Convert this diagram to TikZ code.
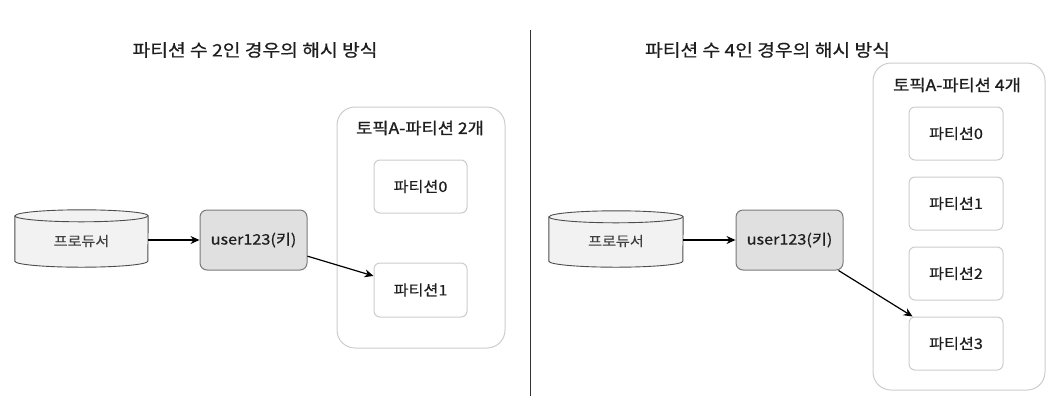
\documentclass[tikz,border=0pt]{standalone}
\usepackage{fontspec}
\setmainfont{Noto Sans CJK KR}[FakeStretch=1.12, FakeBold=0.5]
\newfontfamily\heavyfont{Noto Sans CJK KR}[FakeStretch=1.1, FakeBold=1.1]
\usetikzlibrary{arrows.meta}
\definecolor{txt}{HTML}{1E1E1E}
\definecolor{lightbd}{HTML}{CCCCCC}
\definecolor{keyfill}{HTML}{E0E0E0}
\definecolor{keybd}{HTML}{7A7A7A}
\definecolor{cylfill}{HTML}{F2F2F2}
\definecolor{cylbd}{HTML}{4D4D4D}
\tikzset{
  title/.style={font=\fontsize{17.2}{20}\selectfont, text=txt},
  contbox/.style={draw=lightbd, line width=1pt, rounded corners=18pt},
  conttitle/.style={font=\heavyfont\fontsize{16}{19}\selectfont, text=txt},
  partbox/.style={draw=lightbd, line width=1pt, rounded corners=6pt, fill=white, font=\fontsize{14.5}{17}\selectfont, text=txt},
  keybox/.style={draw=keybd, fill=keyfill, line width=1pt, rounded corners=7pt, font=\fontsize{14.5}{17}\selectfont, text=txt},
  prodnode/.style={font=\fontsize{13.5}{16}\selectfont, text=txt!85, inner sep=0pt},
  cyl/.style={draw=cylbd, line width=0.9pt, fill=cylfill},
  conn/.style={draw=black, line width=1.2pt, -{Stealth[length=9pt,width=8pt]}},
}
\newcommand{\drawcyl}[1]{%
  \path[cyl] ([yshift=-6pt]#1.north west) -- ([yshift=6pt]#1.south west)
     arc[start angle=180, end angle=360, x radius=0.5*\cylw, y radius=6pt]
     -- ([yshift=-6pt]#1.north east)
     arc[start angle=0, end angle=180, x radius=0.5*\cylw, y radius=6pt] -- cycle;
  \draw[draw=cylbd, line width=0.9pt] ([yshift=-6pt]#1.north west)
     arc[start angle=180, end angle=360, x radius=0.5*\cylw, y radius=6pt];
}
\begin{document}
\begin{tikzpicture}[x=1pt,y=1pt]
\useasboundingbox (0,0) rectangle (1054,-400);

% ---------- left ----------
\node[title] (t1) at (255,-50) {파티션 수 2인 경우의 해시 방식};
\node[contbox, minimum width=168pt, minimum height=241pt] (c1) at (421,-227.5) {};
\node[conttitle] (c1t) at (420,-128) {토픽A-파티션 2개};
\node[partbox, minimum width=93pt, minimum height=53pt] (l0) at (420.5,-186.5) {파티션0};
\node[partbox, minimum width=93pt, minimum height=54pt] (l1) at (420.5,-290) {파티션1};
\node[prodnode, minimum width=133pt, minimum height=57pt] (pr1) at (81.5,-238.5) {};
\def\cylw{133pt}
\drawcyl{pr1}
\node[prodnode] (pr1t) at (81.5,-241) {프로듀서};
\node[keybox, minimum width=107pt, minimum height=60pt] (k1) at (253.5,-240) {user123(키)};
\draw[conn] (pr1.east |- k1) -- (k1);
\draw[conn] (k1) -- (l1);

% ---------- divider ----------
\coordinate (dtop) at (530,-30);
\coordinate (dbot) at (530,-396);
\draw[draw=black!80, line width=1pt] (dtop) -- (dbot);

% ---------- right ----------
\node[title] (t2) at (767.5,-50) {파티션 수 4인 경우의 해시 방식};
\node[contbox, minimum width=172pt, minimum height=327pt] (c2) at (959,-226.5) {};
\node[conttitle] (c2t) at (957,-85) {토픽A-파티션 4개};
\node[partbox, minimum width=94pt, minimum height=53pt] (r0) at (956,-133.5) {파티션0};
\node[partbox, minimum width=94pt, minimum height=53pt] (r1) at (956,-203.5) {파티션1};
\node[partbox, minimum width=94pt, minimum height=53pt] (r2) at (956,-273.5) {파티션2};
\node[partbox, minimum width=94pt, minimum height=53pt] (r3) at (956,-343.5) {파티션3};
\node[prodnode, minimum width=134pt, minimum height=56pt] (pr2) at (616,-239) {};
\def\cylw{134pt}
\drawcyl{pr2}
\node[prodnode] (pr2t) at (616,-241) {프로듀서};
\node[keybox, minimum width=107pt, minimum height=60pt] (k2) at (789.5,-240) {user123(키)};
\draw[conn] (pr2.east |- k2) -- (k2);
\draw[conn] (k2) -- (r3);
\end{tikzpicture}
\end{document}
